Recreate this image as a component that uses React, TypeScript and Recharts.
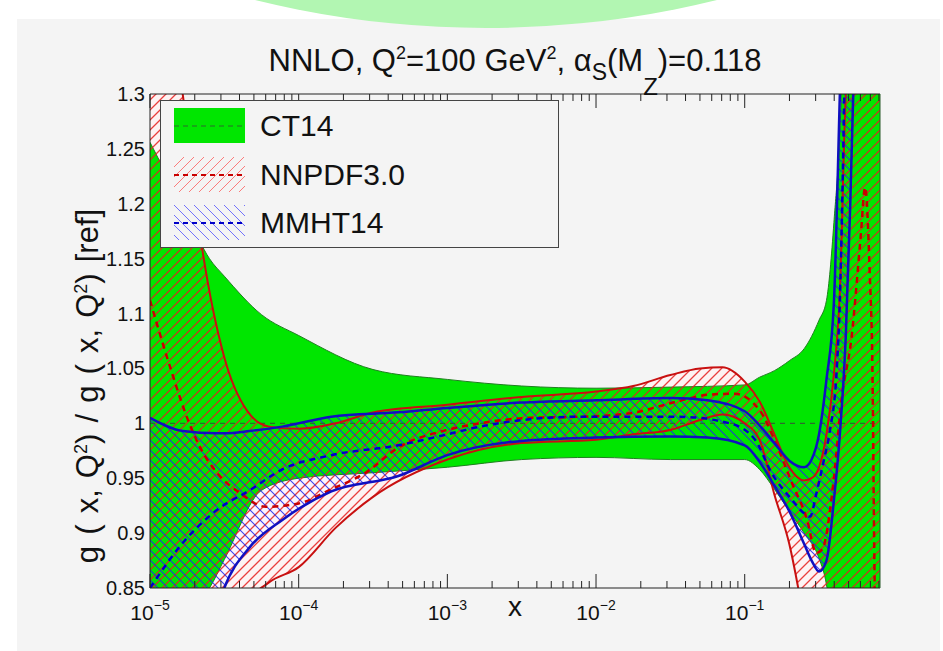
import React from 'react';
import { ComposedChart, Area, Line, XAxis, YAxis } from 'recharts';

// plot box in page pixels
const PLOT = { left: 150, top: 94, right: 880, bottom: 588 };
const X_MIN = -5;
const X_MAX = -0.09; // log10(x), right edge ~0.81
const FONT = '"Liberation Sans", Arial, Helvetica, sans-serif';
const BG = '#f4f4f4';

// x values are log10(x)
const ct14X = [-5, -4.75, -4.6, -4.5, -4.25, -4, -3.5, -3, -2.5, -2, -1.5, -1, -0.9, -0.8, -0.7, -0.6, -0.5, -0.45, -0.4, -0.35, -0.3, -0.09];
const ct14Upper = [1.256, 1.19, 1.15, 1.134, 1.099, 1.08, 1.049, 1.04, 1.034, 1.032, 1.033, 1.035, 1.042, 1.048, 1.057, 1.068, 1.094, 1.112, 1.183, 1.3, 1.6, 1.6];
const ct14Lower = [0.8, 0.83, 0.85, 0.876, 0.939, 0.95, 0.955, 0.96, 0.967, 0.969, 0.967, 0.967, 0.958, 0.94, 0.92, 0.9, 0.877, 0.853, 0.8, 0.7, 0.6, 0.6];
const ct14CenterX = [-5, -0.09];
const ct14Center = [1, 1];

const nnX = [-5, -4.9, -4.78, -4.65, -4.5, -4.35, -4.2, -4, -3.75, -3.5, -3, -2.5, -2, -1.75, -1.5, -1.3, -1.15, -1, -0.9, -0.8, -0.7, -0.6, -0.55, -0.5, -0.45, -0.4, -0.36, -0.32, -0.09];
const nnUpper = [1.6, 1.42, 1.3, 1.16, 1.06, 1.012, 0.997, 0.995, 1.0, 1.01, 1.017, 1.024, 1.029, 1.034, 1.044, 1.05, 1.051, 1.038, 1.02, 0.99, 0.96, 0.948, 0.95, 0.96, 0.99, 1.045, 1.12, 1.3, 1.6];
const nnLower = [0.5, 0.55, 0.62, 0.7, 0.77, 0.835, 0.855, 0.869, 0.905, 0.933, 0.967, 0.982, 0.985, 0.99, 0.994, 1.003, 1.008, 1.0, 0.985, 0.935, 0.89, 0.82, 0.78, 0.72, 0.65, 0.6, 0.55, 0.5, 0.5];
const nnCenterX = [-5, -4.85, -4.75, -4.67, -4.55, -4.4, -4.22, -4, -3.78, -3.55, -3.33, -3, -2.78, -2.45, -2.11, -1.78, -1.45, -1.25, -1.07, -0.9, -0.8, -0.68, -0.58, -0.52, -0.48, -0.4, -0.35, -0.28, -0.22, -0.19, -0.16, -0.14, -0.13, -0.12];
const nnCenter = [1.112, 1.045, 1.005, 0.98, 0.955, 0.937, 0.924, 0.927, 0.94, 0.955, 0.978, 0.994, 1.0, 1.005, 1.006, 1.009, 1.02, 1.026, 1.027, 1.012, 0.985, 0.945, 0.912, 0.882, 0.885, 0.95, 1.02, 1.08, 1.17, 1.215, 1.14, 1.04, 0.9, 0.8];

const mmX = [-5, -4.78, -4.55, -4.5, -4.33, -4.11, -3.78, -3.33, -3, -2.5, -2, -1.5, -1.25, -1, -0.9, -0.8, -0.7, -0.6, -0.55, -0.5, -0.45, -0.4, -0.36, -0.32, -0.29, -0.27, -0.2];
const mmUpper = [1.005, 0.993, 0.991, 0.991, 0.993, 0.997, 1.006, 1.01, 1.014, 1.019, 1.021, 1.023, 1.021, 1.011, 0.998, 0.982, 0.966, 0.96, 0.967, 0.99, 1.04, 1.11, 1.3, 1.5, 1.6, 1.6, 1.6];
const mmLower = [0.72, 0.77, 0.83, 0.85, 0.887, 0.912, 0.938, 0.952, 0.971, 0.984, 0.987, 0.988, 0.987, 0.98, 0.965, 0.943, 0.92, 0.89, 0.875, 0.865, 0.875, 0.93, 0.99, 1.08, 1.2, 1.3, 1.5];
const mmCenterX = [-5, -4.78, -4.55, -4.33, -4.11, -3.78, -3.33, -3, -2.78, -2.11, -1.45, -1.1, -0.93, -0.82, -0.68, -0.6, -0.56, -0.52, -0.47, -0.43, -0.38, -0.36, -0.33];
const mmCenter = [0.85, 0.891, 0.921, 0.939, 0.958, 0.971, 0.98, 0.99, 0.997, 1.006, 1.006, 1.0, 0.985, 0.955, 0.93, 0.918, 0.915, 0.935, 0.965, 0.991, 1.051, 1.112, 1.3];

const yTicks = [0.85, 0.9, 0.95, 1, 1.05, 1.1, 1.15, 1.2, 1.25, 1.3];
const majorTicks = [-5, -4, -3, -2, -1];
const minorTicks = majorTicks
  .flatMap(d => [2, 3, 4, 5, 6, 7, 8, 9].map(k => d + Math.log10(k)))
  .filter(v => v <= X_MAX);
const xTicks = [...majorTicks, ...minorTicks].sort((a, b) => a - b);

const band = (xs: number[], lo: number[], hi: number[]) =>
  xs.map((x, i) => ({ x, lo: lo[i], hi: hi[i], range: [lo[i], hi[i]] }));
const curve = (xs: number[], ys: number[]) => xs.map((x, i) => ({ x, y: ys[i] }));

const ct14Data = band(ct14X, ct14Lower, ct14Upper);
const nnData = band(nnX, nnLower, nnUpper);
const mmData = band(mmX, mmLower, mmUpper);

const BottomTick = (props: any) => {
  const { x, payload } = props;
  const v = payload.value;
  const major = majorTicks.includes(v);
  const len = major ? 14 : 7;
  return (
    <g>
      <line x1={x} x2={x} y1={PLOT.bottom} y2={PLOT.bottom - len} stroke="#222" strokeWidth={1} />
      {major && (
        <text x={x} y={620} textAnchor="middle" fontSize={21} fontFamily={FONT} fill="#111">
          10<tspan dy={-10} fontSize={14}>−{-v}</tspan>
        </text>
      )}
    </g>
  );
};

const TopTick = (props: any) => {
  const { x, payload } = props;
  const major = majorTicks.includes(payload.value);
  const len = major ? 14 : 7;
  return <line x1={x} x2={x} y1={PLOT.top} y2={PLOT.top + len} stroke="#222" strokeWidth={1} />;
};

const LeftTick = (props: any) => {
  const { y, payload } = props;
  return (
    <text x={145} y={y + 7} textAnchor="end" fontSize={20} fontFamily={FONT} fill="#111">
      {String(payload.value)}
    </text>
  );
};

// hatch patterns, defined once in a hidden svg and referenced by id
const Hatch = ({ id, color, dir, opacity, width }: { id: string; color: string; dir: 1 | -1; opacity: number; width: number }) => (
  <pattern id={id} width="10" height="10" patternUnits="userSpaceOnUse">
    <path
      d={dir === 1 ? 'M-2,2 L2,-2 M0,10 L10,0 M8,12 L12,8' : 'M-2,8 L2,12 M0,0 L10,10 M8,-2 L12,2'}
      fill="none"
      stroke={color}
      strokeWidth={width}
      strokeOpacity={opacity}
    />
  </pattern>
);

const LegendRow = ({ top, label, kind }: { top: number; label: string; kind: 'ct' | 'nn' | 'mm' }) => (
  <div style={{ position: 'absolute', left: 0, top, height: 36, width: 390 }}>
    <svg width={72} height={36} style={{ position: 'absolute', left: 13, top: 0 }}>
      {kind === 'ct' && <rect x={0} y={0} width={71} height={35} fill="#00e600" />}
      {kind === 'nn' && <rect x={0} y={0} width={71} height={35} fill="url(#hatchRedLg)" />}
      {kind === 'mm' && <rect x={0} y={0} width={71} height={35} fill="url(#hatchBlueLg)" />}
      <line
        x1={0}
        x2={71}
        y1={18}
        y2={18}
        stroke={kind === 'ct' ? '#2d6b2d' : kind === 'nn' ? '#c80000' : '#0000c8'}
        strokeWidth={kind === 'ct' ? 1.2 : 2}
        strokeDasharray="5 4"
      />
    </svg>
    <div
      style={{
        position: 'absolute',
        left: 99,
        top: -2,
        fontSize: 30,
        lineHeight: '40px',
        fontFamily: FONT,
        color: '#111',
      }}
    >
      {label}
    </div>
  </div>
);

export default function App() {
  return (
    <div style={{ position: 'relative', width: 943, height: 651, overflow: 'hidden', background: '#fff' }}>
      <style>{'body{margin:0}'}</style>
      <svg width={1} height={1} style={{ position: 'absolute', left: 0, top: 0 }}>
        <defs>
          <Hatch id="hatchRed" color="#e61e1e" dir={1} opacity={0.85} width={1.3} />
          <Hatch id="hatchBlue" color="#2222ee" dir={-1} opacity={0.85} width={1.1} />
          <Hatch id="hatchRedLg" color="#ff3c3c" dir={1} opacity={0.65} width={1} />
          <Hatch id="hatchBlueLg" color="#3a3aff" dir={-1} opacity={0.7} width={1} />
        </defs>
      </svg>
      <div style={{ position: 'absolute', left: 17, top: 19, width: 923, height: 632, background: BG }} />
      {/* pale green disc peeking in from the top */}
      <div
        style={{
          position: 'absolute',
          left: 486 - 967,
          top: 28 - 1934,
          width: 1934,
          height: 1934,
          borderRadius: '50%',
          background: '#b2f6b2',
        }}
      />
      <div style={{ position: 'absolute', left: 0, top: 0 }}>
        <ComposedChart
          width={943}
          height={651}
          margin={{ top: PLOT.top - 20, right: 943 - PLOT.right, bottom: 651 - PLOT.bottom - 50, left: PLOT.left - 60 }}
        >
          <XAxis
            xAxisId="b"
            type="number"
            dataKey="x"
            domain={[X_MIN, X_MAX]}
            allowDataOverflow
            ticks={xTicks}
            interval={0}
            height={50}
            tickLine={false}
            axisLine={{ stroke: '#222' }}
            tick={(p: any) => <BottomTick {...p} />}
          />
          <XAxis
            xAxisId="t"
            orientation="top"
            type="number"
            dataKey="x"
            domain={[X_MIN, X_MAX]}
            allowDataOverflow
            ticks={xTicks}
            interval={0}
            height={20}
            tickLine={false}
            axisLine={{ stroke: '#222' }}
            tick={(p: any) => <TopTick {...p} />}
          />
          <YAxis
            type="number"
            domain={[0.85, 1.3]}
            allowDataOverflow
            ticks={yTicks}
            interval={0}
            width={60}
            tickLine={false}
            axisLine={{ stroke: '#222' }}
            tick={(p: any) => <LeftTick {...p} />}
          />

          {/* pale under-fills of the hatched bands */}
          <Area xAxisId="b" data={nnData} dataKey="range" type="monotone" fill="#fdf3f3" fillOpacity={1} stroke="none" isAnimationActive={false} />
          <Area xAxisId="b" data={mmData} dataKey="range" type="monotone" fill="#fbf4fb" fillOpacity={1} stroke="none" isAnimationActive={false} />

          {/* CT14 */}
          <Area xAxisId="b" data={ct14Data} dataKey="range" type="monotone" fill="#00e600" fillOpacity={1} stroke="#1f7f1f" strokeWidth={1} isAnimationActive={false} />

          {/* hatches */}
          <Area xAxisId="b" data={nnData} dataKey="range" type="monotone" fill="url(#hatchRed)" fillOpacity={1} stroke="none" isAnimationActive={false} />
          <Area xAxisId="b" data={mmData} dataKey="range" type="monotone" fill="url(#hatchBlue)" fillOpacity={1} stroke="none" isAnimationActive={false} />

          <Line xAxisId="b" data={curve(ct14CenterX, ct14Center)} dataKey="y" type="linear" stroke="#2d6b2d" strokeWidth={1.2} strokeDasharray="5 5" dot={false} isAnimationActive={false} />

          <Line xAxisId="b" data={nnData} dataKey="hi" type="monotone" stroke="#c81010" strokeWidth={2} dot={false} isAnimationActive={false} />
          <Line xAxisId="b" data={nnData} dataKey="lo" type="monotone" stroke="#c81010" strokeWidth={2} dot={false} isAnimationActive={false} />
          <Line xAxisId="b" data={curve(nnCenterX, nnCenter)} dataKey="y" type="monotone" stroke="#c80000" strokeWidth={2.5} strokeDasharray="6 5" dot={false} isAnimationActive={false} />

          <Line xAxisId="b" data={mmData} dataKey="hi" type="monotone" stroke="#1010c0" strokeWidth={2.5} dot={false} isAnimationActive={false} />
          <Line xAxisId="b" data={mmData} dataKey="lo" type="monotone" stroke="#1010c0" strokeWidth={2.5} dot={false} isAnimationActive={false} />
          <Line xAxisId="b" data={curve(mmCenterX, mmCenter)} dataKey="y" type="monotone" stroke="#0000c8" strokeWidth={2.5} strokeDasharray="6 5" dot={false} isAnimationActive={false} />
        </ComposedChart>
      </div>

      {/* frame on the right, title and axis labels */}
      <svg width={943} height={651} style={{ position: 'absolute', left: 0, top: 0, pointerEvents: 'none' }}>
        <line x1={PLOT.right} x2={PLOT.right} y1={PLOT.top} y2={PLOT.bottom} stroke="#2a5a2a" strokeWidth={1} />
        <text x={515} y={71} textAnchor="middle" fontSize={31} fontFamily={FONT} fill="#111">
          NNLO, Q<tspan dy={-12} fontSize={18}>2</tspan>
          <tspan dy={12}>=100 GeV</tspan>
          <tspan dy={-12} fontSize={18}>2</tspan>
          <tspan dy={12}>, α</tspan>
          <tspan dy={9} fontSize={23}>S</tspan>
          <tspan dy={-9}>(M</tspan>
          <tspan dy={24} fontSize={24}>Z</tspan>
          <tspan dy={-24}>)=0.118</tspan>
        </text>
        <text x={515} y={616} textAnchor="middle" fontSize={28} fontFamily={FONT} fill="#111">
          x
        </text>
        <text
          transform="translate(98 386) rotate(-90)"
          textAnchor="middle"
          fontSize={31}
          wordSpacing={2.5}
          fontFamily={FONT}
          fill="#111"
        >
          g ( x, Q<tspan dy={-11} fontSize={18}>2</tspan>
          <tspan dy={11}>) / g ( x, Q</tspan>
          <tspan dy={-11} fontSize={18}>2</tspan>
          <tspan dy={11}>) [ref]</tspan>
        </text>
      </svg>

      {/* legend */}
      <div
        style={{
          position: 'absolute',
          left: 160,
          top: 100,
          width: 397,
          height: 146,
          border: '1px solid #444',
          background: BG,
        }}
      >
        <LegendRow top={7} label="CT14" kind="ct" />
        <LegendRow top={56} label="NNPDF3.0" kind="nn" />
        <LegendRow top={104} label="MMHT14" kind="mm" />
      </div>
    </div>
  );
}
